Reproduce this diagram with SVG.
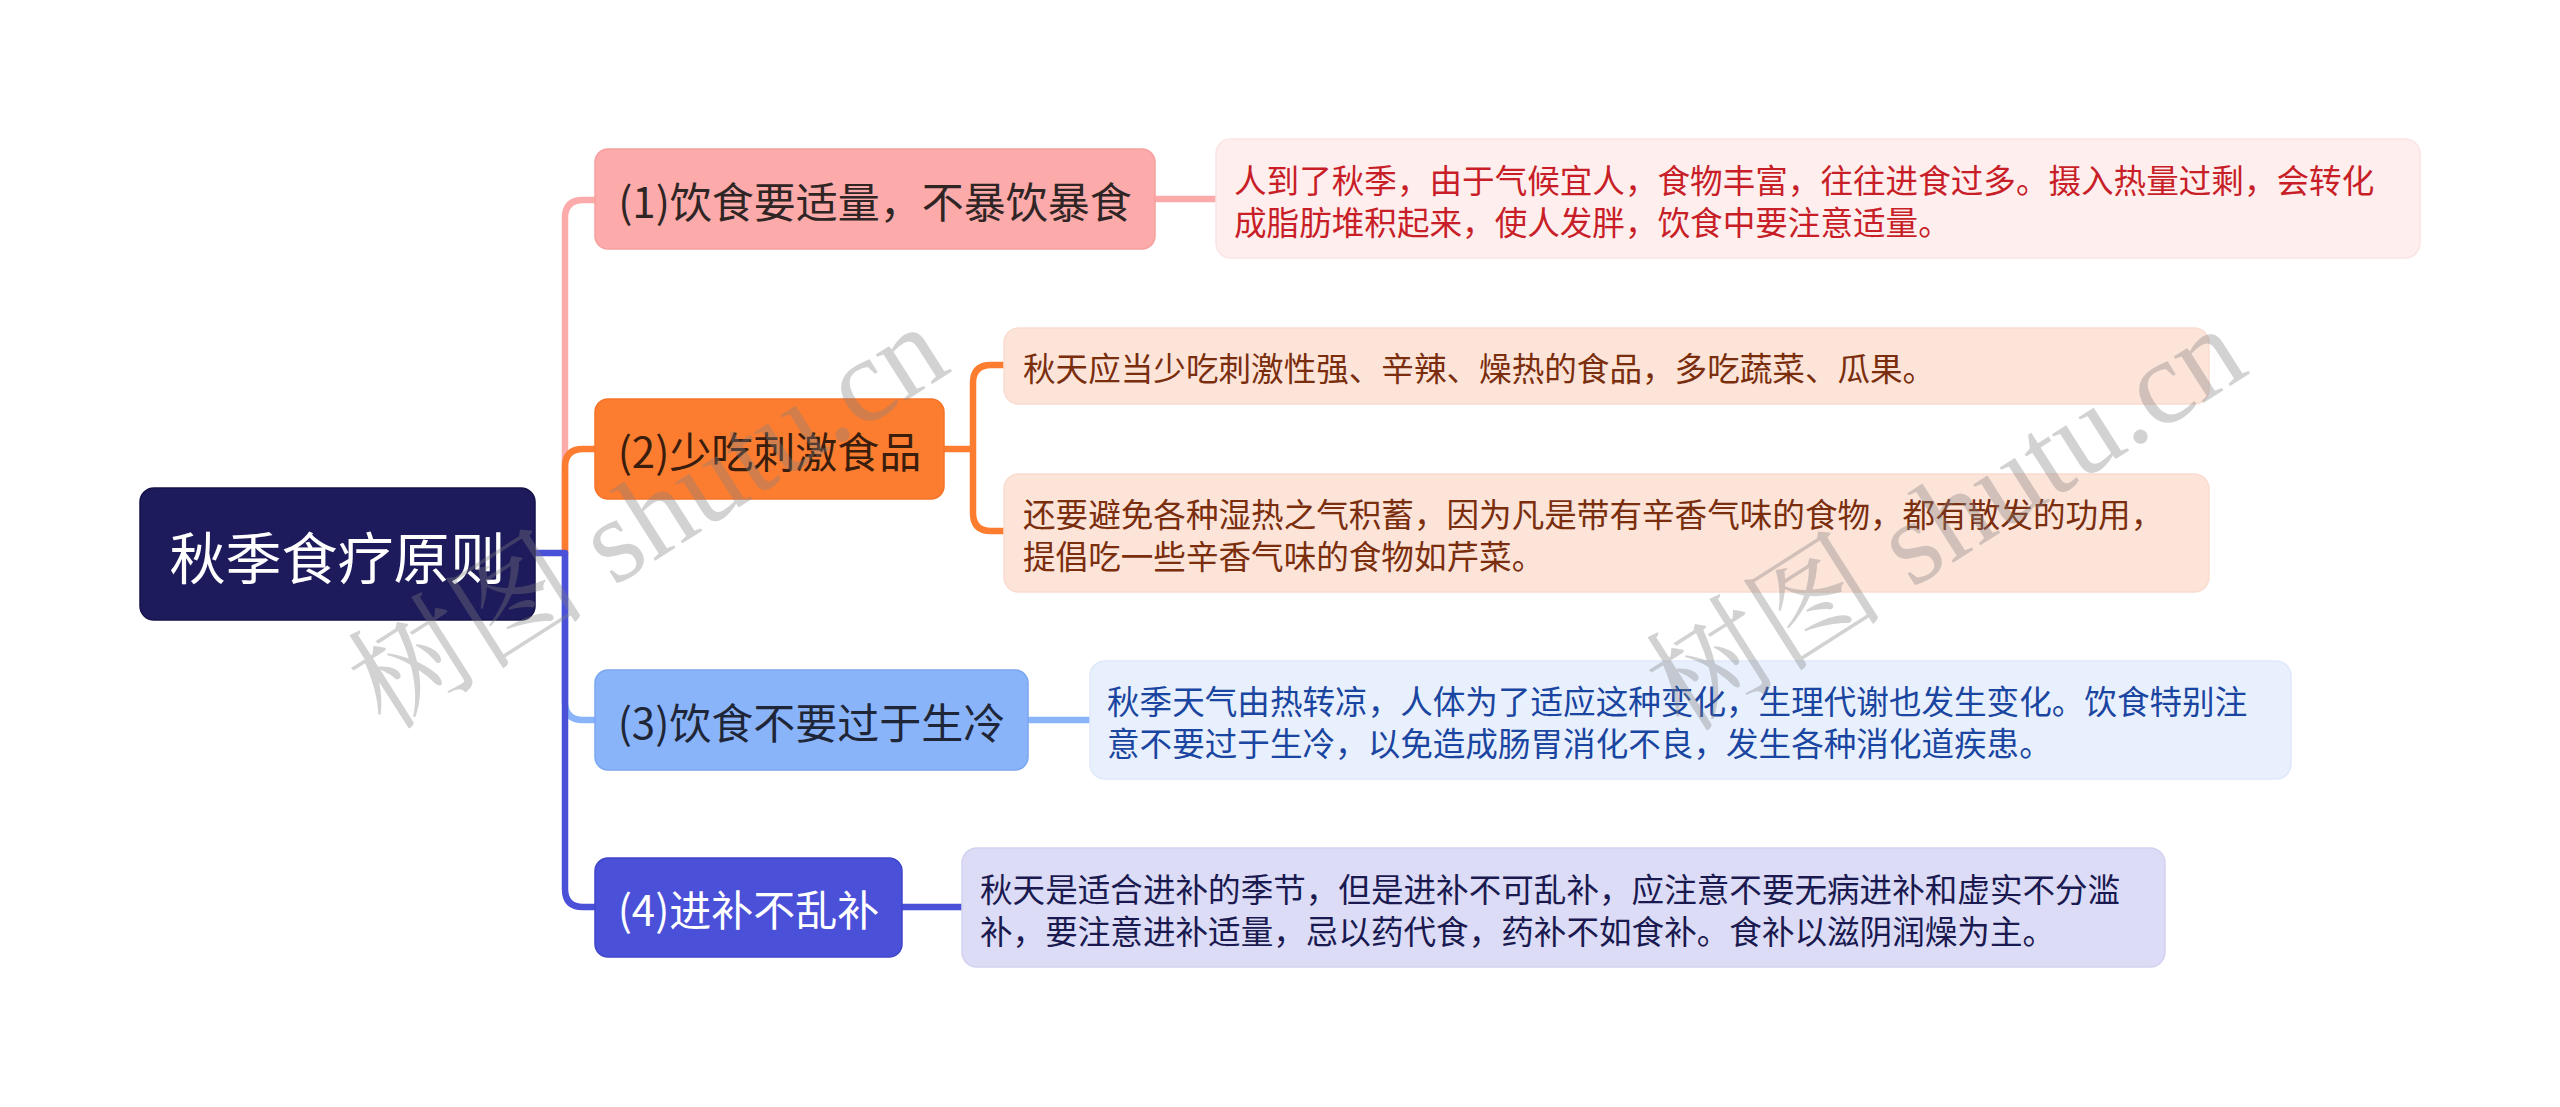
<svg xmlns="http://www.w3.org/2000/svg" width="2560" height="1107" viewBox="0 0 2560 1107">
<style>
text{font-family:"Noto Sans CJK SC","Noto Sans",sans-serif;}
.root{fill:#1e1b5c;stroke:#15134a;stroke-width:1.5;}
.rt{font-size:56px;fill:#ffffff;text-anchor:middle;dominant-baseline:central;}
.bt{font-size:42px;text-anchor:middle;dominant-baseline:central;}
.lt{font-size:32.6px;dominant-baseline:central;}
.ln{fill:none;stroke-width:6.5;stroke-linecap:round;stroke-linejoin:round;}
.wm{font-family:"Liberation Serif","Noto Serif CJK SC","Noto Sans CJK SC",serif;font-size:120px;fill:#808080;opacity:0.35;text-anchor:middle;dominant-baseline:central;}
</style>
<rect width="2560" height="1107" fill="#ffffff"/>
<g id="connectors">
  <path class="ln" stroke="#fcaaaa" d="M565 553 V218 Q565 200 583 200 H596"/>
  <path class="ln" stroke="#8ab4fa" d="M565 553 V702 Q565 720 583 720 H596"/>
  <path class="ln" stroke="#fd7d30" d="M565 553 V467 Q565 449 583 449 H596"/>
  <path class="ln" stroke="#4a50d8" d="M535 553 H565 V889 Q565 907 583 907 H596"/>
  <path class="ln" stroke="#fcaaaa" d="M1155 199 H1216"/>
  <path class="ln" stroke="#fd7d30" d="M944 449 H973 M973 449 V383 Q973 365 991 365 H1005 M973 449 V513 Q973 531 991 531 H1005"/>
  <path class="ln" stroke="#8ab4fa" d="M1028 720 H1090"/>
  <path class="ln" stroke="#4a50d8" d="M902 907 H962"/>
</g>
<g id="root">
  <rect class="root" x="140" y="488" width="395" height="132" rx="14"/>
  <text class="rt" x="337.5" y="554">秋季食疗原则</text>
</g>
<g id="b1">
  <rect x="595" y="149" width="560" height="100" rx="13" fill="#fcaaaa" stroke="#f6a0a0" stroke-width="1.5"/>
  <text class="bt" x="875" y="199" fill="#2f2525">(1)饮食要适量，不暴饮暴食</text>
</g>
<g id="b2">
  <rect x="595" y="399" width="349" height="100" rx="13" fill="#fd7d30" stroke="#f57428" stroke-width="1.5"/>
  <text class="bt" x="769.5" y="449" fill="#3b1d0e">(2)少吃刺激食品</text>
</g>
<g id="b3">
  <rect x="595" y="670" width="433" height="100" rx="13" fill="#8ab4fa" stroke="#7aa6f0" stroke-width="1.5"/>
  <text class="bt" x="811.5" y="720" fill="#1e2638">(3)饮食不要过于生冷</text>
</g>
<g id="b4">
  <rect x="595" y="858" width="307" height="99" rx="13" fill="#4a50d8" stroke="#3f45c8" stroke-width="1.5"/>
  <text class="bt" x="748.5" y="907.5" fill="#ffffff">(4)进补不乱补</text>
</g>
<g id="l1">
  <rect x="1216" y="139" width="1204" height="119" rx="15" fill="#feeeee" stroke="#fbe4e4" stroke-width="1.5"/>
  <text class="lt" fill="#c81e28"><tspan x="1234" y="178">人到了秋季，由于气候宜人，食物丰富，往往进食过多。摄入热量过剩，会转化</tspan><tspan x="1234" y="220">成脂肪堆积起来，使人发胖，饮食中要注意适量。</tspan></text>
</g>
<g id="l2a">
  <rect x="1004" y="328" width="1205" height="76" rx="15" fill="#fde4d8" stroke="#f9dccf" stroke-width="1.5"/>
  <text class="lt" fill="#7a2e0e" x="1023" y="366">秋天应当少吃刺激性强、辛辣、燥热的食品，多吃蔬菜、瓜果。</text>
</g>
<g id="l2b">
  <rect x="1004" y="474" width="1205" height="118" rx="15" fill="#fde4d8" stroke="#f9dccf" stroke-width="1.5"/>
  <text class="lt" fill="#7a2e0e"><tspan x="1023" y="512">还要避免各种湿热之气积蓄，因为凡是带有辛香气味的食物，都有散发的功用，</tspan><tspan x="1023" y="554">提倡吃一些辛香气味的食物如芹菜。</tspan></text>
</g>
<g id="l3">
  <rect x="1090" y="661" width="1201" height="118" rx="15" fill="#e8f0fd" stroke="#dfe8fa" stroke-width="1.5"/>
  <text class="lt" fill="#1a45a0"><tspan x="1107" y="699">秋季天气由热转凉，人体为了适应这种变化，生理代谢也发生变化。饮食特别注</tspan><tspan x="1107" y="741">意不要过于生冷，以免造成肠胃消化不良，发生各种消化道疾患。</tspan></text>
</g>
<g id="l4">
  <rect x="962" y="848" width="1203" height="119" rx="15" fill="#dcdcf6" stroke="#d2d2f0" stroke-width="1.5"/>
  <text class="lt" fill="#1a1a50"><tspan x="980" y="887">秋天是适合进补的季节，但是进补不可乱补，应注意不要无病进补和虚实不分滥</tspan><tspan x="980" y="929">补，要注意进补适量，忌以药代食，药补不如食补。食补以滋阴润燥为主。</tspan></text>
</g>
<g id="watermarks">
  <text class="wm" transform="translate(648 517) rotate(-32.5)">树图 shutu.cn</text>
  <text class="wm" transform="translate(1946 519) rotate(-32.5)">树图 shutu.cn</text>
</g>
</svg>
